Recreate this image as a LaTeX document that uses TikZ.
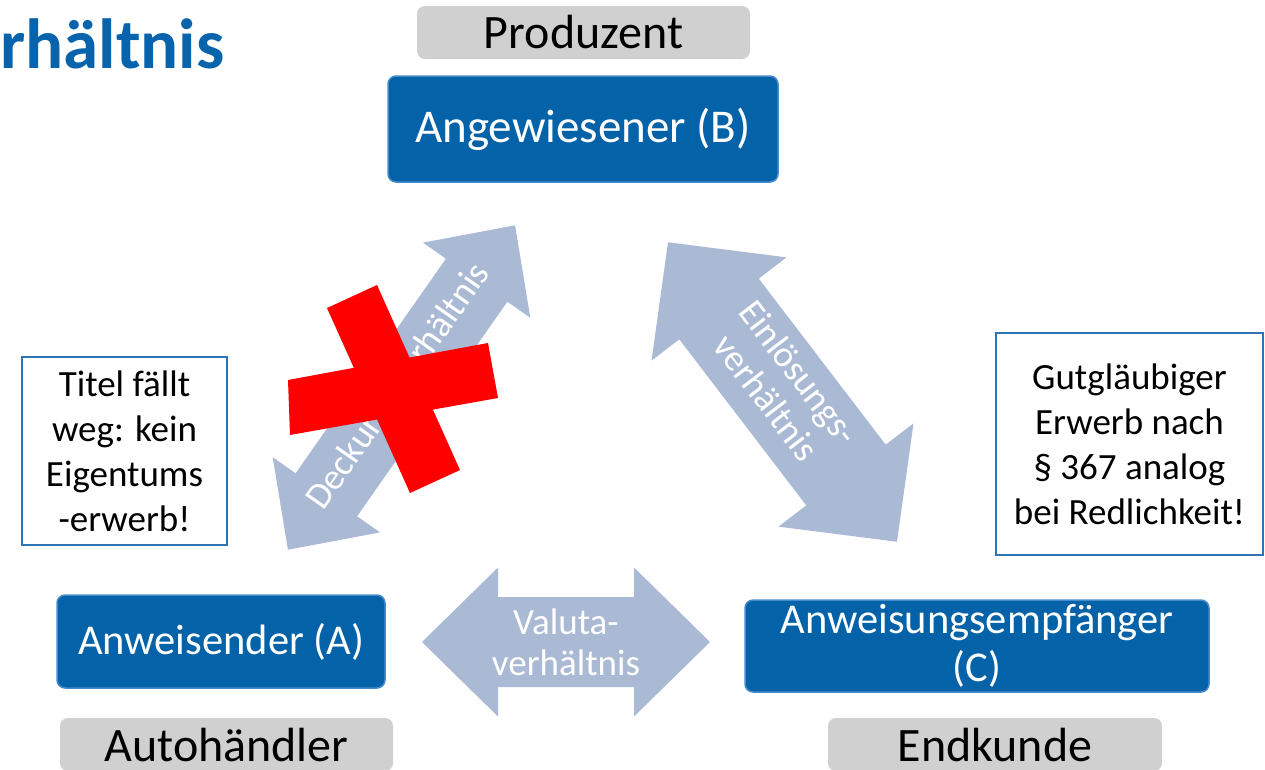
\documentclass[tikz,border=0pt]{standalone}
\usepackage{fontspec}
\setmainfont{Carlito}
\definecolor{boxblue}{RGB}{4,98,168}
\definecolor{boxedge}{RGB}{70,140,205}
\definecolor{boxgray}{RGB}{208,208,208}
\definecolor{noteblue}{RGB}{46,117,182}
\definecolor{arrowgray}{RGB}{170,185,212}
\definecolor{titleblue}{RGB}{7,99,172}
\tikzset{
  bluebox/.style={rounded corners=8pt, fill=boxblue, draw=boxedge, line width=1.5pt, text=white, font=\fontsize{47}{48}\selectfont, align=center, inner sep=0pt},
  smallblue/.style={bluebox, font=\fontsize{42.5}{48}\selectfont},
  graybox/.style={rounded corners=8pt, fill=boxgray, text=black, font=\fontsize{48}{48}\selectfont, inner sep=0pt},
  notebox/.style={draw=noteblue, line width=1.5pt, fill=white, font=\fontsize{37}{45}\selectfont, align=center, inner sep=0pt},
  arrowtext/.style={text=white, font=\fontsize{37}{41}\selectfont, align=center, inner sep=0pt},
  arrowfill/.style={fill=arrowgray},
  crossfill/.style={fill=red}
}
\newcommand\dblarrowshape[7]{%
\begin{scope}[shift={(#1,#2)},rotate=#3]
\fill[arrowfill] ({-#4/2},0) -- ({-#4/2+#7},{#6/2}) -- ({-#4/2+#7},{#5/2}) -- ({#4/2-#7},{#5/2}) -- ({#4/2-#7},{#6/2}) -- ({#4/2},0) -- ({#4/2-#7},{-#6/2}) -- ({#4/2-#7},{-#5/2}) -- ({-#4/2+#7},{-#5/2}) -- ({-#4/2+#7},{-#6/2}) -- cycle;
\end{scope}}
\begin{document}
\begin{tikzpicture}[x=1pt,y=-1pt]
\useasboundingbox (0,0) rectangle (1265,769);
% title
\node[anchor=base west, inner sep=0pt, font=\fontsize{71}{71}\selectfont\bfseries, text=titleblue] (title) at (0,68) {rhältnis};
% arrows
\dblarrowshape{401.5}{387.5}{55}{396}{75}{131}{67}
\dblarrowshape{782.5}{392}{-52.6}{377}{100}{170}{84}
\dblarrowshape{566}{642}{0}{288}{90}{149}{76}
\node[arrowtext, rotate=55] (deck) at (399,387) {Deckungsverhältnis};
\node[arrowtext, rotate=-52.6] (einl) at (783,385) {Einlösungs-\\verhältnis};
\node[arrowtext] (valuta) at (566,642) {Valuta-\\verhältnis};
% red cross
\fill[crossfill] (288,380) -- (488,343) -- (498,398) -- (290,435) -- cycle;
\fill[crossfill] (327,308) -- (377,285) -- (460,470) -- (410,493) -- cycle;
% boxes
\node[graybox, minimum width=333, minimum height=53] (prod) at (583.5,32.5) {Produzent};
\node[bluebox, minimum width=390, minimum height=106] (B) at (583,129) {Angewiesener (B)};
\node[smallblue, minimum width=328, minimum height=93] (A) at (221,641.5) {Anweisender (A)};
\node[smallblue, minimum width=464, minimum height=92] (C) at (977,646) {Anweisungsempfänger\\(C)};
\node[graybox, minimum width=333, minimum height=53] (auto) at (226.5,744.5) {Autohändler};
\node[graybox, minimum width=334, minimum height=53] (end) at (995,744.5) {Endkunde};
\node[notebox, minimum width=205, minimum height=188] (left) at (124.5,451) {Titel fällt\\weg: kein\\Eigentums\\-erwerb!};
\node[notebox, minimum width=267, minimum height=222] (right) at (1129.5,444) {Gutgläubiger\\Erwerb nach\\§ 367 analog\\bei Redlichkeit!};
\end{tikzpicture}
\end{document}
